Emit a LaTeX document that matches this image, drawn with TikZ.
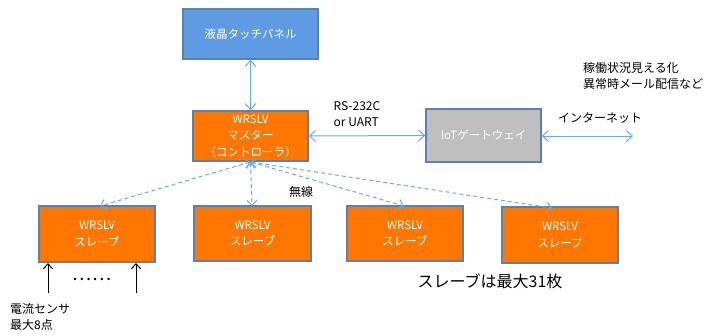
\documentclass[tikz,border=0pt]{standalone}
\usepackage{fontspec}
\setmainfont{Noto Sans CJK JP}
\usetikzlibrary{arrows.meta}
\definecolor{panelblue}{HTML}{5E9BE3}
\definecolor{edgeblue}{HTML}{5A82AE}
\definecolor{boxorange}{HTML}{FF7700}
\definecolor{gwgray}{HTML}{BFBFBF}
\definecolor{arrowblue}{HTML}{6AAAE8}
\tikzset{
  box/.style={draw=edgeblue, line width=1.6pt, inner sep=0pt, text=white, font=\fontsize{11.5}{16.5}\selectfont, align=center},
  lbl/.style={inner sep=0pt, font=\fontsize{12}{16}\selectfont, align=left, text=black},
  blink/.style={draw=arrowblue, line width=1pt, {Straight Barb[length=6pt,width=11pt]}-{Straight Barb[length=6pt,width=11pt]}},
  wlink/.style={draw=arrowblue, line width=1pt, dashed, dash pattern=on 4pt off 3pt, {Straight Barb[length=5pt,width=10pt]}-{Straight Barb[length=5pt,width=10pt]}},
  sens/.style={draw=black, line width=1pt, -{Straight Barb[length=5pt,width=9pt]}}
}
\begin{document}
\begin{tikzpicture}[x=1pt,y=-1pt]
\useasboundingbox (0,0) rectangle (714,335);
\node[box, fill=panelblue, minimum width=135pt, minimum height=50pt] (panel) at (250.5,34) {液晶タッチパネル};
\node[box, fill=boxorange, minimum width=115pt, minimum height=50pt] (master) at (250.5,136) {WRSLV\\マスター\\（コントローラ）};
\node[box, fill=gwgray, minimum width=115pt, minimum height=53pt] (gw) at (483.5,135.5) {IoTゲートウェイ};
\node[box, fill=boxorange, minimum width=116pt, minimum height=56pt] (s1) at (97,234) {WRSLV\\スレーブ};
\node[box, fill=boxorange, minimum width=117pt, minimum height=55pt] (s2) at (252.5,233.5) {WRSLV\\スレーブ};
\node[box, fill=boxorange, minimum width=116pt, minimum height=55pt] (s3) at (405,233.5) {WRSLV\\スレーブ};
\node[box, fill=boxorange, minimum width=116pt, minimum height=56pt] (s4) at (560,235) {WRSLV\\スレーブ};
\coordinate (net) at (633,136);
\coordinate (mb) at (250.5,162);
\coordinate (t1) at (100,206);
\coordinate (t2) at (252,206);
\coordinate (t3) at (404,206);
\coordinate (t4) at (552,208);
\coordinate (a1b) at (48,293);
\coordinate (a1t) at (48,263);
\coordinate (a2b) at (136,293);
\coordinate (a2t) at (136,263);
\draw[blink] (panel.south) -- (master.north);
\draw[blink] (master.east) -- (gw.west);
\draw[blink] (gw.east |- net) -- (net);
\draw[wlink] (mb) -- (t1);
\draw[wlink] (mb) -- (t2);
\draw[wlink] (mb) -- (t3);
\draw[wlink] (mb) -- (t4);
\draw[sens] (a1b) -- (a1t);
\draw[sens] (a2b) -- (a2t);
\node[lbl] (rs) at (357,114) {RS-232C\\or UART};
\node[lbl] (inet) at (600,118) {インターネット};
\node[lbl, anchor=west] (note) at (583,76) {稼働状況見える化\\異常時メール配信など};
\node[lbl] (musen) at (301,192) {無線};
\node[inner sep=0pt, font=\fontsize{18}{18}\selectfont] (dots) at (92,279) {……};
\node[lbl, anchor=west] (sensor) at (10,317) {電流センサ\\最大8点};
\node[inner sep=0pt, font=\fontsize{16}{18}\selectfont] (max) at (490,281) {スレーブは最大31枚};
\end{tikzpicture}
\end{document}
